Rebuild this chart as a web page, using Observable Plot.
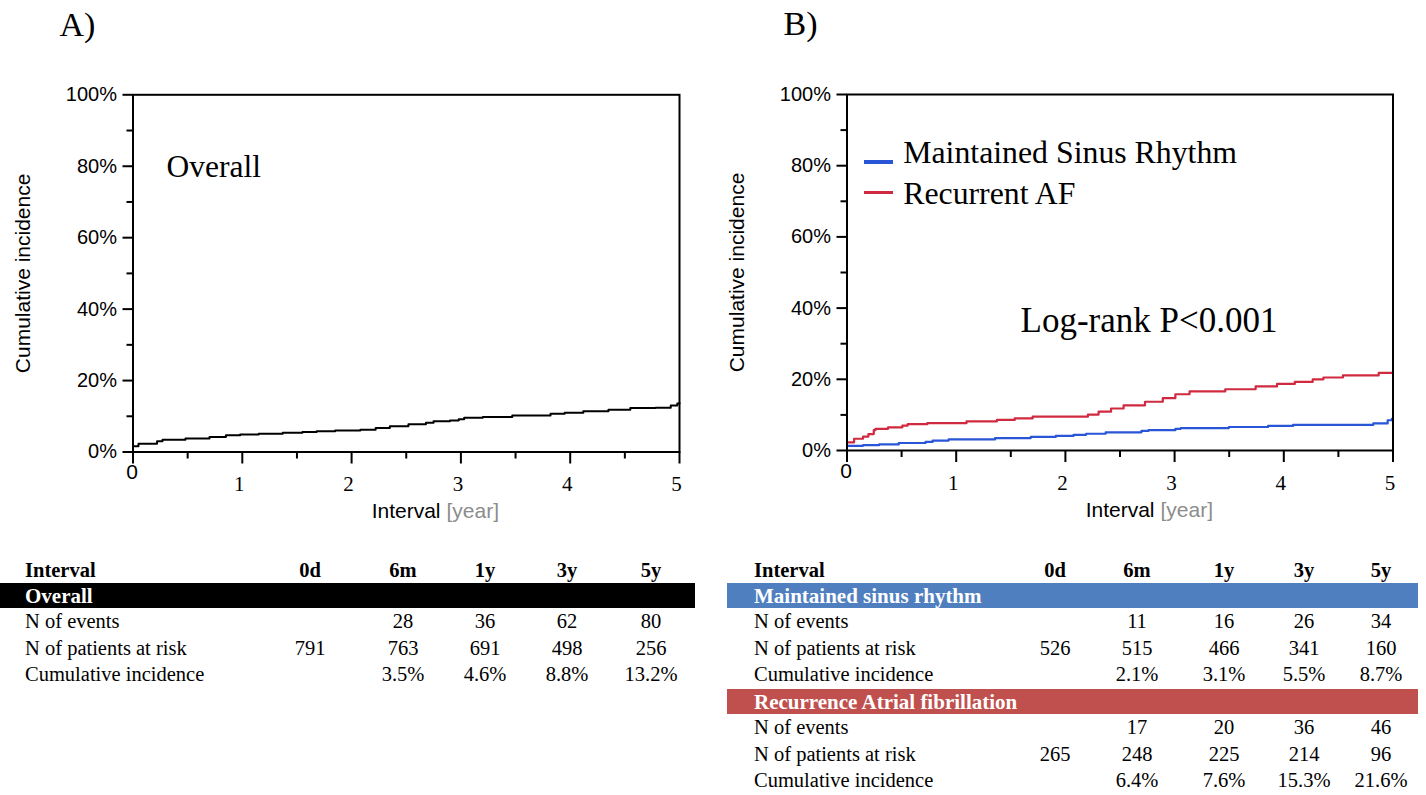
<!DOCTYPE html>
<html><head><meta charset="utf-8">
<script src="https://cdn.jsdelivr.net/npm/d3@7"></script>
<script src="https://cdn.jsdelivr.net/npm/@observablehq/plot@0.6"></script>
<style>
html,body{margin:0;padding:0;background:#fff;}
#page{position:relative;width:1426px;height:795px;overflow:hidden;background:#fff;}
.abs{position:absolute;}
</style></head><body><div id="page"></div>
<script>
// ---------- data ----------
const overallTime = [0, 0.05, 0.22, 0.27, 0.48, 0.70, 0.85, 0.98, 1.15, 1.37, 1.55, 1.68, 1.85, 2.08, 2.22, 2.35, 2.52, 2.68, 2.75, 2.90, 2.98, 3.03, 3.20, 3.47, 3.82, 3.95, 4.12, 4.35, 4.55, 4.78, 4.92, 4.98, 5.0];
const overallInc  = [1.6, 2.3, 3.0, 3.4, 3.8, 4.2, 4.7, 4.9, 5.1, 5.4, 5.6, 5.8, 6.0, 6.2, 6.7, 7.2, 7.8, 8.2, 8.6, 8.8, 9.2, 9.6, 9.8, 10.2, 10.7, 11.0, 11.4, 11.8, 12.3, 12.4, 13.0, 13.6, 13.7];

const sinusTime = [0, 0.147, 0.294, 0.474, 0.719, 0.784, 0.931, 1.356, 1.683, 1.912, 2.075, 2.19, 2.369, 2.696, 2.761, 3.007, 3.056, 3.497, 3.856, 4.085, 4.82, 4.951, 4.99, 5.0];
const sinusInc  = [1.3, 1.5, 1.7, 2.1, 2.4, 2.8, 3.1, 3.5, 3.8, 4.1, 4.4, 4.7, 5.1, 5.5, 5.7, 6.1, 6.3, 6.6, 6.9, 7.2, 7.6, 8.5, 8.9, 8.9];

const afTime = [0, 0.065, 0.147, 0.196, 0.245, 0.26, 0.376, 0.507, 0.556, 0.735, 1.095, 1.373, 1.536, 1.70, 2.206, 2.304, 2.418, 2.533, 2.729, 2.892, 3.007, 3.137, 3.464, 3.742, 3.938, 4.101, 4.265, 4.363, 4.542, 4.869, 5.0];
const afInc  = [2.3, 3.3, 3.9, 4.6, 5.7, 6.1, 6.5, 7.0, 7.4, 7.7, 8.2, 8.6, 9.0, 9.5, 10.1, 10.9, 11.8, 12.7, 13.7, 14.7, 15.8, 16.6, 17.2, 18.0, 18.7, 19.3, 20.0, 20.5, 21.1, 21.8, 21.8];

const yMajorTicks = [0, 20, 40, 60, 80, 100];
const yMinorTicks = [10, 30, 50, 70, 90];
const xMajorTicks = [0, 1, 2, 3, 4, 5];
const xMinorTicks = [0.5, 1.5, 2.5, 3.5, 4.5];

const seriesNames = ["Maintained Sinus Rhythm", "Recurrent AF"];

const intervals = ["0d", "6m", "1y", "3y", "5y"];
const rowLabels = ["N of events", "N of patients at risk", "Cumulative incidence"];
const overallEvents = [null, 28, 36, 62, 80];
const overallRisk   = [791, 763, 691, 498, 256];
const overallCum    = [null, 3.5, 4.6, 8.8, 13.2];
const sinusEvents = [null, 11, 16, 26, 34];
const sinusRisk   = [526, 515, 466, 341, 160];
const sinusCum    = [null, 2.1, 3.1, 5.5, 8.7];
const afEvents = [null, 17, 20, 36, 46];
const afRisk   = [265, 248, 225, 214, 96];
const afCum    = [null, 6.4, 7.6, 15.3, 21.6];

// ---------- styling ----------
const SANS = "'Liberation Sans', Arial, Helvetica, sans-serif";
const SERIF = "'Liberation Serif', 'Times New Roman', serif";
const BLUE = "#2856d6";
const RED = "#d02a40";
const BAR_BLUE = "#4f7fbf";
const BAR_RED = "#c0504d";

const toRows = (ts, vs) => ts.map((t, i) => ({t, v: vs[i]}));

function axesMarks(panelLabel) {
  return [
    Plot.axisY({ticks: yMajorTicks, tickSize: 10, tickPadding: 6, tickFormat: d => d + "%", fontSize: 20, fontFamily: SANS, strokeWidth: 2, label: null}),
    Plot.axisY({ticks: yMinorTicks, tickSize: 6, tickFormat: () => "", strokeWidth: 2, label: null}),
    Plot.axisX({ticks: xMajorTicks, tickSize: 12, tickFormat: () => "", strokeWidth: 2, label: null}),
    Plot.axisX({ticks: xMinorTicks, tickSize: 7, tickFormat: () => "", strokeWidth: 2, label: null}),
    Plot.text(xMajorTicks.filter(d => d > 0), {x: d => d, text: d => String(d), frameAnchor: "bottom", dy: 39, dx: -3, fontFamily: SERIF, fontSize: 21}),
    Plot.text(xMajorTicks.filter(d => d === 0), {x: d => d, text: d => String(d), frameAnchor: "bottom", dy: 27, dx: -1, fontFamily: SANS, fontSize: 21}),
    Plot.text(["Cumulative incidence"], {frameAnchor: "left", rotate: -90, dx: -110, textAnchor: "middle", fontSize: 21, fontFamily: SANS}),
    Plot.text(["Interval"], {frameAnchor: "bottom-left", dx: 307.5, dy: 66, textAnchor: "end", lineAnchor: "bottom", fontSize: 21, fontFamily: SANS}),
    Plot.text(["[year]"], {frameAnchor: "bottom-left", dx: 313.5, dy: 66, textAnchor: "start", lineAnchor: "bottom", fontSize: 21, fontFamily: SANS, fill: "#8c8c8c"}),
    Plot.text([panelLabel.text], {frameAnchor: "top-left", dx: panelLabel.dx, dy: -59.3, textAnchor: "start", lineAnchor: "bottom", fontSize: 34, fontFamily: SERIF})
  ];
}

const page = document.getElementById("page");

// ---------- Panel A ----------
const plotA = Plot.plot({
  width: 700, height: 540,
  marginLeft: 132.5, marginRight: 21, marginTop: 94.3, marginBottom: 88.5,
  x: {domain: [0, 5]},
  y: {domain: [0, 100]},
  style: {background: "transparent", color: "#000", overflow: "visible", fontFamily: SANS},
  marks: [
    ...axesMarks({text: "A)", dx: -73.5}),
    Plot.line(toRows(overallTime, overallInc), {x: "t", y: "v", curve: "step-after", stroke: "#000", strokeWidth: 2}),
    Plot.frame({strokeWidth: 2, stroke: "#000"}),
    Plot.text(["Overall"], {frameAnchor: "top-left", dx: 33.5, dy: 82.4, textAnchor: "start", lineAnchor: "bottom", fontSize: 31.5, fontFamily: SERIF})
  ]
});
plotA.classList.add("abs");
plotA.style.left = "0px"; plotA.style.top = "0px";
page.appendChild(plotA);

// ---------- Panel B ----------
const groups = [
  {name: seriesNames[0], color: BLUE, rows: toRows(sinusTime, sinusInc)},
  {name: seriesNames[1], color: RED, rows: toRows(afTime, afInc)}
];
const plotB = Plot.plot({
  width: 712, height: 540,
  marginLeft: 132.5, marginRight: 33.5, marginTop: 94, marginBottom: 90,
  x: {domain: [0, 5]},
  y: {domain: [0, 100]},
  style: {background: "transparent", color: "#000", overflow: "visible", fontFamily: SANS},
  marks: [
    ...axesMarks({text: "B)", dx: -63.5}),
    ...groups.map(g => Plot.line(g.rows, {x: "t", y: "v", curve: "step-after", stroke: g.color, strokeWidth: 2.2})),
    Plot.frame({strokeWidth: 2, stroke: "#000"}),
    Plot.text([seriesNames[0]], {frameAnchor: "top-left", dx: 56.2, dy: 68.7, textAnchor: "start", lineAnchor: "bottom", fontSize: 31.8, fontFamily: SERIF}),
    Plot.text([seriesNames[1]], {frameAnchor: "top-left", dx: 56.2, dy: 109.3, textAnchor: "start", lineAnchor: "bottom", fontSize: 31.8, fontFamily: SERIF}),
    Plot.text(["Log-rank P<0.001"], {frameAnchor: "top-left", dx: 173.5, dy: 237.7, textAnchor: "start", lineAnchor: "bottom", fontSize: 35, fontFamily: SERIF})
  ]
});
plotB.classList.add("abs");
plotB.style.left = "714px"; plotB.style.top = "0px";
page.appendChild(plotB);

// legend swatches
[[BLUE, 160], [RED, 190.5]].forEach(([c, top]) => {
  const d = document.createElement("div");
  d.className = "abs";
  Object.assign(d.style, {left: "864px", top: top + "px", width: "29px", height: "3.5px", background: c});
  page.appendChild(d);
});

// ---------- Tables ----------
const tsvg = d3.select(page).append("svg")
  .attr("class", "abs")
  .attr("width", 1426).attr("height", 795)
  .style("left", "0px").style("top", "0px")
  .style("pointer-events", "none");

function drawTable({labelX, barX0, barX1, colX, sections}) {
  const g = tsvg.append("g").attr("font-family", SERIF).attr("font-size", 20.5);
  g.append("text").attr("x", labelX).attr("y", 577).attr("font-weight", "bold").text("Interval");
  intervals.forEach((t, i) => g.append("text").attr("x", colX[i]).attr("y", 577).attr("text-anchor", "middle").attr("font-weight", "bold").text(t));
  sections.forEach(s => {
    g.append("rect").attr("x", barX0).attr("y", s.top).attr("width", barX1 - barX0).attr("height", 25).attr("fill", s.fill);
    g.append("text").attr("x", labelX).attr("y", s.top + 20).attr("fill", "#fff").attr("font-weight", "bold").attr("font-size", 21).text(s.title);
    const rowsVals = [s.events, s.risk, s.cum.map(v => v == null ? null : v.toFixed(1) + "%")];
    rowsVals.forEach((vals, r) => {
      const y = s.top + 45 + r * 26.5;
      g.append("text").attr("x", labelX).attr("y", y).text(rowLabels[r]);
      vals.forEach((v, i) => { if (v != null) g.append("text").attr("x", colX[i]).attr("y", y).attr("text-anchor", "middle").text(v); });
    });
  });
}

drawTable({
  labelX: 25, barX0: 0, barX1: 695, colX: [310, 403, 485, 567, 651],
  sections: [{top: 583, fill: "#000", title: "Overall", events: overallEvents, risk: overallRisk, cum: overallCum}]
});
drawTable({
  labelX: 754, barX0: 727, barX1: 1418, colX: [1055, 1137, 1224, 1304, 1381],
  sections: [
    {top: 583, fill: BAR_BLUE, title: "Maintained sinus rhythm", events: sinusEvents, risk: sinusRisk, cum: sinusCum},
    {top: 689, fill: BAR_RED, title: "Recurrence Atrial fibrillation", events: afEvents, risk: afRisk, cum: afCum}
  ]
});
</script></body></html>
